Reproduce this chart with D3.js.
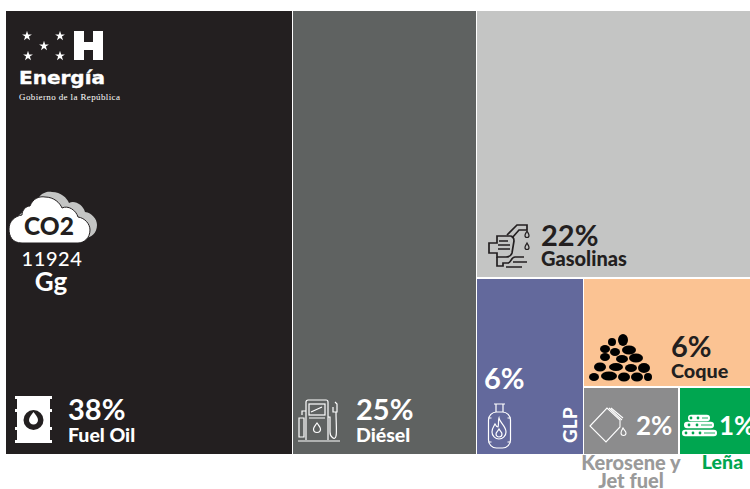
<!DOCTYPE html>
<html>
<head>
<meta charset="utf-8">
<script src="https://cdnjs.cloudflare.com/ajax/libs/d3/7.8.5/d3.min.js"></script>
<style>
html,body{margin:0;padding:0;background:#fff;}
svg{display:block;}
text{font-family:Lato,sans-serif;}
</style>
</head>
<body>
<svg id="chart" width="750" height="489"></svg>
<script>
// CO2 emissions of the energy sector by fuel (share of total, %)
const fuels   = ["Fuel Oil","Diésel","Gasolinas","GLP","Coque","Kerosene y Jet fuel","Leña"];
const shares  = [38.4, 24.65, 22.15, 5.7, 5.51, 1.95, 1.49];
const colors  = ["#231f20","#5f6261","#c4c5c4","#63699c","#fbc393","#8c8c8d","#00a650"];
const totalGg = 11924;

const frame = {x: 6, y: 11, w: 745, h: 443};
const svg = d3.select("#chart");

// Nested layout: columns, then rows, alternating down to the two smallest fuels
const leaf = i => ({name: fuels[i], value: shares[i], color: colors[i], i});
const tree = {children: [
  leaf(0), leaf(1),
  {children: [
    leaf(2),
    {children: [
      leaf(3),
      {children: [
        leaf(4),
        {children: [leaf(5), leaf(6)]}
      ]}
    ]}
  ]}
]};

const root = d3.hierarchy(tree).sum(d => d.value || 0);
d3.treemap()
  .tile((node, x0, y0, x1, y1) =>
    (node.depth % 2 ? d3.treemapSlice : d3.treemapDice)(node, x0, y0, x1, y1))
  .size([frame.w, frame.h])
  .paddingInner(1.6)
  .round(true)(root);
root.each(d => { d.x0 += frame.x; d.x1 += frame.x; d.y0 += frame.y; d.y1 += frame.y; });

const leaves = root.leaves();
const cell = name => leaves.find(d => d.data.name === name);

svg.selectAll("rect.cell").data(leaves).join("rect")
  .attr("class", "cell")
  .attr("x", d => d.x0).attr("y", d => d.y0)
  .attr("width", d => d.x1 - d.x0).attr("height", d => d.y1 - d.y0)
  .attr("fill", d => d.data.color);

const pct = d => d3.format(".0f")(d.data.value) + "%";

// Percentage plus fuel name, set at fixed places beside each icon
function label(name, x, yPct, yName, fill, nameSize) {
  const d = cell(name);
  const g = svg.append("g").attr("fill", fill);
  g.append("text").attr("x", x).attr("y", yPct)
    .attr("font-size", 29).attr("font-weight", 700).text(pct(d));
  if (yName !== null) {
    g.append("text").attr("x", x).attr("y", yName)
      .attr("font-size", nameSize).attr("font-weight", 900).text(name);
  }
}

label("Fuel Oil", 68, 420, 442, "#fff", 19.5);
label("Diésel", 356, 420, 442, "#fff", 19.5);
label("Gasolinas", 541, 246, 266, "#231f20", 20);
label("GLP", 484, 389, null, "#fff");
label("Coque", 671, 357, 378, "#231f20", 19.8);

const kero = cell("Kerosene y Jet fuel"), lena = cell("Leña");
svg.append("text").attr("x", 636).attr("y", 435).attr("fill", "#fff")
  .attr("font-size", 26).attr("font-weight", 700).text(pct(kero));
svg.append("text").attr("x", 719).attr("y", 435).attr("fill", "#fff")
  .attr("font-size", 26).attr("font-weight", 700).text(pct(lena));

svg.append("text").attr("transform", "translate(577,443) rotate(-90)")
  .attr("fill", "#fff").attr("font-size", 19).attr("font-weight", 900).text("GLP");

// Labels of the two smallest fuels sit below the frame
svg.append("text").attr("text-anchor", "middle").attr("fill", "#9a9a9a")
  .attr("font-size", 20).attr("font-weight", 900)
  .selectAll("tspan").data(["Kerosene y", "Jet fuel"]).join("tspan")
  .attr("x", 631).attr("y", (d, i) => 470 + i * 18).text(d => d);
svg.append("text").attr("x", 722.5).attr("y", 469).attr("text-anchor", "middle")
  .attr("fill", "#00a650").attr("font-size", 19.5).attr("font-weight", 900).text("Leña");

// Government logo
const star = d3.symbol().type(d3.symbolStar).size(30);
[[27,36],[44,46],[60,36],[28,56],[60,56]].forEach(([x, y]) =>
  svg.append("path").attr("d", star()).attr("transform", `translate(${x},${y})`).attr("fill", "#fff"));
svg.append("path").attr("fill", "#fff")
  .attr("d", "M74 31h10v11h9V31h10v29H93V50h-9v10H74z");
svg.append("text").attr("x", 19).attr("y", 84).attr("fill", "#fff").attr("stroke", "#fff").attr("stroke-width", 0.4)
  .style("font-family", "'DejaVu Sans'").attr("font-weight", 700)
  .attr("font-size", 18).attr("textLength", 86).attr("lengthAdjust", "spacingAndGlyphs").text("Energía");
svg.append("text").attr("x", 19).attr("y", 100).attr("fill", "#fff")
  .style("font-family", "'Liberation Serif'").attr("font-size", 9)
  .attr("textLength", 101).text("Gobierno de la República");

// CO2 cloud with its shadow behind
const cloud = "M22 243C12 243 9 236 9 229C9 221 15 216 22 215C22 210 26 206 30 206C33 198 40 196 45 197C54 197 60 203 62 208C68 205 76 210 78 217C85 218 90 224 90 230C90 238 84 243 78 243Z";
svg.append("path").attr("d", cloud).attr("transform", "translate(7,-5)").attr("fill", "#c4c5c4");
svg.append("path").attr("d", cloud).attr("fill", "#fff").attr("stroke", "#231f20").attr("stroke-width", 1);
svg.append("text").attr("x", 49).attr("y", 235).attr("text-anchor", "middle").attr("fill", "#231f20")
  .attr("font-size", 24.500).attr("font-weight", 900).text("CO2");
svg.append("text").attr("x", 52).attr("y", 266).attr("text-anchor", "middle").attr("fill", "#fff")
  .attr("font-size", 20).attr("font-weight", 500).attr("letter-spacing", 0.6).text(totalGg);
svg.append("text").attr("x", 51).attr("y", 291).attr("text-anchor", "middle").attr("fill", "#fff")
  .attr("font-size", 26).attr("font-weight", 700).text("Gg");

// Barrel with a drop
const barrel = svg.append("g").attr("transform", "translate(15,396)");
barrel.append("path").attr("fill", "#fff")
  .attr("d", "M0 0h37v3h-2v10h2v3h-2v15h2v3h-2v10h2v3H0v-3h2V34H0v-3h2V16H0v-3h2V3H0z");
barrel.append("circle").attr("cx", 18.500).attr("cy", 24).attr("r", 10).attr("fill", "#231f20");
barrel.append("path").attr("fill", "#fff").attr("d", "M18.500 16c2 3 4.500 5 4.500 8a4.500 4.500 0 0 1-9 0c0-3 2.500-5 4.500-8z");

// Fuel pump
const pump = svg.append("g").attr("transform", "translate(298,399)")
  .attr("fill", "none").attr("stroke", "#fff").attr("stroke-width", 1.2);
pump.append("path").attr("d", "M8 41V3a2 2 0 0 1 2-2h18a2 2 0 0 1 2 2v38M0 42h42");
pump.append("rect").attr("x", 11).attr("y", 5).attr("width", 16).attr("height", 11);
pump.append("path").attr("d", "M13 13l11-5M11 19h16");
pump.append("path").attr("d", "M19 24c2 3 3.500 4 3.500 6a3.500 3.500 0 0 1-7 0c0-2 1.500-3 3.500-6z");
pump.append("path").attr("d", "M8 12H4v4M1 19h5v19H1z");
pump.append("path").attr("d", "M30 18h2v15c0 5 5 9 6 4 1-3 0-14 0-24M35 8v5h4V5l-2-2");

// Nozzle with drops
const nozzle = svg.append("g").attr("fill", "none").attr("stroke", "#231f20").attr("stroke-width", 1.7);
nozzle.append("path").attr("d", "M507 235L517 225h10v5h-8l-7 8");
nozzle.append("path").attr("d", "M497 236h13c3 0 4 2 4 5l-2 12c-1 3-3 4-6 4h-9v-4h-8V243h8z");
nozzle.append("path").attr("d", "M499 241h9M498 245h12M498 249h12");
nozzle.append("path").attr("d", "M497 257v9h6v-3h5c3 0 3-6 7-6h9M513 262h14M506 267h16");
nozzle.append("path").attr("stroke-width", 1.2)
  .attr("d", "M527 231c1 2 2 3 2 4.500a2 2 0 0 1-4 0c0-1.500 1-2.500 2-4.500zM527 243c1 2 2 3 2 4.500a2 2 0 0 1-4 0c0-1.500 1-2.500 2-4.500z");

// Gas cylinder with flame
const cyl = svg.append("g").attr("transform", "translate(488,404)")
  .attr("fill", "none").attr("stroke", "#fff").attr("stroke-width", 1.2);
cyl.append("path").attr("d", "M6 0h11M8 0v8M15 0v8");
cyl.append("rect").attr("x", 0.500).attr("y", 8).attr("width", 22).attr("height", 36).attr("rx", 8);
cyl.append("path").attr("d", "M0.500 14h3M19.500 14h3M0.500 38h3M19.500 38h3");
cyl.append("path").attr("d", "M11 14c1 5 7 8 7 14a7 7 0 0 1-14 0c0-4 2-6 3-8 1 2 2 3 3 3 1-3 0-6 1-9z");
cyl.append("path").attr("d", "M11 25c1 2 3 3 3 5a3 3 0 0 1-6 0c0-2 2-3 3-5z");

// Heap of coke lumps
const lumpSpots = [
  [623,340,5,6],[612,342,4,4],[605,349,5,4],[615,352,5,4],[629,350,7,4.500],
  [605,357,5,4],[622,359,6,4],[636,358,7,4.500],[600,367,6,4.500],[616,367,7,4],
  [631,368,6,4],[644,368,6,5],[594,377,5,4],[609,376,8,4.500],[624,377,6,4.500],
  [637,377,6,4.500],[648,377,4,4]
];
svg.append("g").attr("fill", "#000").selectAll("ellipse").data(lumpSpots).join("ellipse")
  .attr("cx", d => d[0]).attr("cy", d => d[1]).attr("rx", d => d[2]).attr("ry", d => d[3]);

// Tilted jerrycan with a drop
const can = svg.append("g").attr("fill", "none").attr("stroke", "#fff").attr("stroke-width", 1.1);
can.append("path").attr("d", "M590 426L607 408L620 420V427L606 442Z");
can.append("path").attr("d", "M609 408L622 420M611 408L623 418");
can.append("path").attr("d", "M623 428c1 2 3 3 3 5a2.500 2.500 0 0 1-5 0c0-2 1-3 2-5z");

// Stacked logs
const logs = svg.append("g").attr("fill", "#fff");
[[688,418,710,3.200],[684,425,714,3.200],[682,433,717,3.200]].forEach(([x0, y, x1, r]) => {
  logs.append("rect").attr("x", x0).attr("y", y - r).attr("width", x1 - x0).attr("height", r * 2).attr("rx", r);
});
const ends = [[691,418],[698,418],[689,425],[697,425],[686,433],[693,433],[700,433]];
svg.append("g").attr("fill", "#00a650").selectAll("circle").data(ends).join("circle")
  .attr("cx", d => d[0]).attr("cy", d => d[1]).attr("r", 1.4);
const grain = [[702,418,708],[701,425,712],[704,433,715]];
svg.append("g").attr("stroke", "#00a650").attr("stroke-width", 0.9).selectAll("line").data(grain).join("line")
  .attr("x1", d => d[0]).attr("x2", d => d[2]).attr("y1", d => d[1]).attr("y2", d => d[1]);
</script>
</body>
</html>
